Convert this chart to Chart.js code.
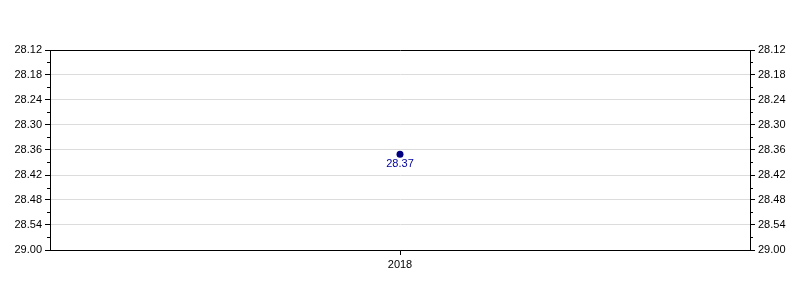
<!DOCTYPE html>
<html>
<head>
<meta charset="utf-8">
<script src="https://cdn.jsdelivr.net/npm/chart.js@4"></script>
<style>
html,body{margin:0;padding:0;background:#fff;}
#wrap{width:800px;height:300px;}
</style>
</head>
<body>
<div id="wrap"><canvas id="c" width="800" height="300"></canvas></div>
<script>
const categories = ['2018'];
const seriesValues = [28.37];
const pointLabels = ['28.37'];
const yTickValues = [28.12, 28.18, 28.24, 28.30, 28.36, 28.42, 28.48, 28.54, 28.60];
const yTickLabels = ['28.12', '28.18', '28.24', '28.30', '28.36', '28.42', '28.48', '28.54', '29.00'];

const FONT = "'Liberation Sans', Arial, sans-serif";

function labelFor(v) {
  for (let i = 0; i < yTickValues.length; i++) {
    if (Math.abs(yTickValues[i] - v) < 1e-6) return yTickLabels[i];
  }
  return '';
}

const minorTicks = {
  id: 'minorTicks',
  afterDraw(chart) {
    const ctx = chart.ctx;
    ctx.save();
    ctx.strokeStyle = '#000';
    ctx.lineWidth = 1;
    ['y', 'y2'].forEach(id => {
      const s = chart.scales[id];
      for (let i = 0; i < yTickValues.length - 1; i++) {
        const mid = (yTickValues[i] + yTickValues[i + 1]) / 2;
        const py = Math.round(s.getPixelForValue(mid)) + 0.5;
        ctx.beginPath();
        if (id === 'y') { ctx.moveTo(s.right - 3, py); ctx.lineTo(s.right, py); }
        else { ctx.moveTo(s.left, py); ctx.lineTo(s.left + 3, py); }
        ctx.stroke();
      }
    });
    // point labels
    const meta = chart.getDatasetMeta(0);
    ctx.fillStyle = '#0000a0';
    ctx.font = '11px ' + FONT;
    ctx.textAlign = 'center';
    ctx.textBaseline = 'middle';
    meta.data.forEach((el, i) => {
      ctx.fillText(pointLabels[i], el.x, el.y + 10);
    });
    ctx.restore();
  }
};

const yCommon = {
  type: 'linear',
  reverse: true,
  min: yTickValues[0],
  max: yTickValues[yTickValues.length - 1],
  afterBuildTicks(scale) { scale.ticks = yTickValues.map(v => ({ value: v })); },
  afterFit(scale) { scale.width = 50; },
  ticks: {
    callback: (v) => labelFor(v),
    color: '#000',
    font: { size: 11, family: FONT },
    padding: 3
  },
  border: { display: true, color: '#000', width: 1 }
};

new Chart(document.getElementById('c'), {
  type: 'line',
  data: {
    labels: categories,
    datasets: [{
      data: seriesValues,
      borderColor: '#000080',
      backgroundColor: '#000080',
      pointRadius: 3.5,
      pointBorderWidth: 0,
      showLine: false
    }]
  },
  options: {
    responsive: false,
    animation: false,
    devicePixelRatio: 1,
    layout: { padding: { top: 50, left: 0, right: 0, bottom: 0 } },
    plugins: { legend: { display: false }, tooltip: { enabled: false } },
    scales: {
      x: {
        type: 'category',
        offset: true,
        afterFit(scale) { scale.height = 50; },
        grid: { drawOnChartArea: false, tickLength: 5, tickColor: '#000', offset: false },
        border: { display: true, color: '#000', width: 1 },
        ticks: { color: '#000', font: { size: 11, family: FONT }, padding: 3 }
      },
      y: Object.assign({}, yCommon, {
        position: 'left',
        grid: {
          drawOnChartArea: true,
          tickLength: 5,
          tickColor: '#000',
          color: (ctx) => (ctx.index === 0 || ctx.index === yTickValues.length - 1) ? '#000' : '#dcdcdc'
        }
      }),
      y2: Object.assign({}, yCommon, {
        position: 'right',
        grid: { drawOnChartArea: false, tickLength: 5, tickColor: '#000' }
      })
    }
  },
  plugins: [minorTicks]
});
</script>
</body>
</html>
